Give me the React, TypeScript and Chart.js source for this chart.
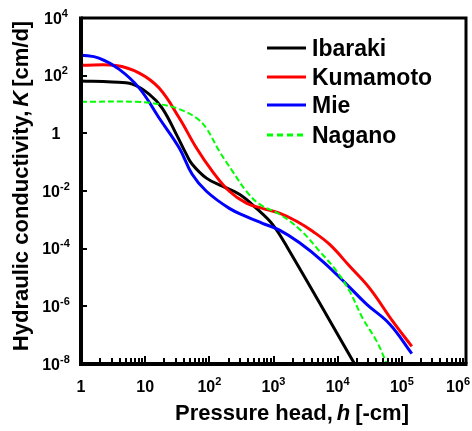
import React, { useEffect, useRef } from "react";
import { Chart, registerables } from "chart.js";

Chart.register(...registerables);

const FONT = '"Liberation Sans", Arial, Helvetica, sans-serif';

// Series names / colours
const seriesNames = ["Ibaraki", "Kumamoto", "Mie", "Nagano"];
const seriesColors = ["#000000", "#ff0000", "#0000ff", "#00ff00"];

// Pressure head h [-cm] and hydraulic conductivity K [cm/d]
const ibarakiH = [1, 3.05, 6.3, 11.5, 18.4, 30.5, 43.7, 54, 90, 160, 294, 542, 965, 1780, 18400];
const ibarakiK = [65, 60, 51, 23, 7.5, 0.94, 0.19, 0.085, 0.028, 0.0147, 0.0077, 0.0025, 7.0e-4, 8.1e-5, 1e-8];

const kumamotoH = [1, 3.5, 8.1, 16.5, 34, 63, 111, 205, 378, 673, 1240, 2290, 4070, 7500, 15400, 31600, 72300, 143000];
const kumamotoK = [228, 225, 123, 37, 3.4, 0.31, 0.049, 0.0098, 0.0038, 0.0025, 0.0017, 8.9e-4, 4.0e-4, 1.4e-4, 2.45e-5, 4.2e-6, 3.0e-7, 4.1e-8];

const mieH = [1, 1.9, 3.9, 8.1, 16.5, 34, 54, 90, 205, 378, 673, 1240, 2550, 5830, 13800, 28400, 64900, 143000];
const mieK = [519, 408, 169, 37, 3.4, 0.31, 0.038, 0.0098, 0.0025, 0.0013, 7.6e-4, 4.4e-4, 1.6e-4, 3.65e-5, 5.8e-6, 1.17e-6, 2.4e-7, 2.3e-8];

const naganoH = [1, 7.2, 16.5, 34, 63, 90, 143, 229, 378, 604, 1240, 2550, 5230, 9650, 15400, 24600, 40700, 58300];
const naganoK = [12.4, 12.4, 10.3, 6.9, 3.4, 1.5, 0.24, 0.049, 0.0098, 0.0035, 0.00156, 4.7e-4, 8.1e-5, 1.64e-5, 3.3e-6, 3.8e-7, 6.1e-8, 1e-8];

// Axis ticks
const xTickValues = [1, 10, 100, 1000, 10000, 100000, 1000000];
const xTickLabels: [string, string][] = [["1", ""], ["10", ""], ["10", "2"], ["10", "3"], ["10", "4"], ["10", "5"], ["10", "6"]];
const yTickValues = [1e4, 1e2, 1, 1e-2, 1e-4, 1e-6, 1e-8];
const yTickLabels: [string, string][] = [["10", "4"], ["10", "2"], ["1", ""], ["10", "-2"], ["10", "-4"], ["10", "-6"], ["10", "-8"]];

const xTitle = ["Pressure head,", "h", "[-cm]"];
const yTitle = ["Hydraulic conductivity,", "K", "[cm/d]"];

function pts(h: number[], k: number[]) {
  return h.map((v, i) => ({ x: v, y: k[i] }));
}

function labelWidth(ctx: CanvasRenderingContext2D, base: string, exp: string) {
  ctx.font = `bold 16px ${FONT}`;
  let w = ctx.measureText(base).width;
  if (exp) {
    ctx.font = `bold 11px ${FONT}`;
    w += ctx.measureText(exp).width;
  }
  return w;
}

function drawPow(ctx: CanvasRenderingContext2D, base: string, exp: string, cx: number, cy: number) {
  const w = labelWidth(ctx, base, exp);
  const x0 = cx - w / 2;
  const baseline = cy + 16 * 0.716 / 2;
  ctx.textAlign = "left";
  ctx.textBaseline = "alphabetic";
  ctx.font = `bold 16px ${FONT}`;
  ctx.fillText(base, x0, baseline);
  const bw = ctx.measureText(base).width;
  if (exp) {
    ctx.font = `bold 11px ${FONT}`;
    ctx.fillText(exp, x0 + bw, baseline - 7);
  }
}

function drawRich(ctx: CanvasRenderingContext2D, parts: string[], size: number, gaps: number[]) {
  const fonts = [`bold ${size}px ${FONT}`, `italic bold ${size}px ${FONT}`, `bold ${size}px ${FONT}`];
  const widths = parts.map((p, i) => {
    ctx.font = fonts[i];
    return ctx.measureText(p).width;
  });
  const total = widths.reduce((a, b) => a + b, 0) + gaps[0] + gaps[1];
  let x = -total / 2;
  const baseline = size * 0.716 / 2;
  ctx.textAlign = "left";
  ctx.textBaseline = "alphabetic";
  parts.forEach((p, i) => {
    ctx.font = fonts[i];
    ctx.fillText(p, x, baseline);
    x += widths[i] + (i < 2 ? gaps[i] : 0);
  });
}

const decorPlugin = {
  id: "decor",
  afterDraw(chart: any) {
    const ctx: CanvasRenderingContext2D = chart.ctx;
    const { left, right, top, bottom } = chart.chartArea;
    const xs = chart.scales.x;
    const ys = chart.scales.y;
    ctx.save();
    ctx.setLineDash([]);
    ctx.strokeStyle = "#000";
    ctx.fillStyle = "#000";
    ctx.lineCap = "butt";

    // frame
    ctx.lineWidth = 3;
    ctx.beginPath();
    ctx.moveTo(left, top);
    ctx.lineTo(right, top);
    ctx.lineTo(right, bottom);
    ctx.stroke();
    ctx.lineWidth = 4;
    ctx.beginPath();
    ctx.moveTo(left, top - 1.5);
    ctx.lineTo(left, bottom);
    ctx.lineTo(right + 1.5, bottom);
    ctx.stroke();

    // x ticks (inside, upward)
    ctx.lineWidth = 2;
    for (let d = 0; d < 6; d++) {
      for (let m = 1; m <= 9; m++) {
        if (m === 1 && d === 0) continue;
        const v = m * Math.pow(10, d);
        const px = Math.round(xs.getPixelForValue(v));
        const len = m === 1 ? 6 : 4;
        ctx.beginPath();
        ctx.moveTo(px, bottom);
        ctx.lineTo(px, bottom - 2 - len);
        ctx.stroke();
      }
    }
    // y ticks (inside)
    yTickValues.forEach((v) => {
      if (v === 1e-8 || v === 1e4) return;
      const py = Math.round(ys.getPixelForValue(v));
      ctx.beginPath();
      ctx.moveTo(left, py);
      ctx.lineTo(left + 6, py);
      ctx.stroke();
    });

    // tick labels
    xTickValues.forEach((v, i) => {
      const [b, e] = xTickLabels[i];
      const w = labelWidth(ctx, b, e);
      let cx = xs.getPixelForValue(v);
      cx = Math.min(cx, chart.width - w / 2 - 2);
      drawPow(ctx, b, e, cx, 386);
    });
    yTickValues.forEach((v, i) => {
      const [b, e] = yTickLabels[i];
      drawPow(ctx, b, e, 56, ys.getPixelForValue(v));
    });

    // axis titles
    ctx.save();
    ctx.translate(292, 412);
    drawRich(ctx, xTitle, 22, [4, 5]);
    ctx.restore();
    ctx.save();
    ctx.translate(20, 186);
    ctx.rotate(-Math.PI / 2);
    drawRich(ctx, yTitle, 22, [4, 4]);
    ctx.restore();

    // legend
    const rows = [48, 77, 105, 135];
    seriesNames.forEach((name, i) => {
      const y = rows[i];
      ctx.strokeStyle = seriesColors[i];
      ctx.lineWidth = 3;
      ctx.setLineDash(i === 3 ? [6, 4] : []);
      ctx.beginPath();
      ctx.moveTo(267, y);
      ctx.lineTo(306, y);
      ctx.stroke();
      ctx.setLineDash([]);
      ctx.fillStyle = "#000";
      ctx.font = `bold 23px ${FONT}`;
      ctx.textAlign = "left";
      ctx.textBaseline = "alphabetic";
      ctx.fillText(name, 312, y + 23 * 0.716 / 2);
    });
    ctx.restore();
  },
};

export default function App() {
  const ref = useRef<HTMLCanvasElement | null>(null);
  useEffect(() => {
    if (!ref.current) return;
    const common = { pointRadius: 0, fill: false, tension: 0.4 };
    const chart = new Chart(ref.current, {
      type: "line",
      data: {
        datasets: [
          { ...common, label: seriesNames[3], data: pts(naganoH, naganoK), borderColor: seriesColors[3], borderWidth: 2, borderDash: [6, 3] },
          { ...common, label: seriesNames[2], data: pts(mieH, mieK), borderColor: seriesColors[2], borderWidth: 3 },
          { ...common, label: seriesNames[1], data: pts(kumamotoH, kumamotoK), borderColor: seriesColors[1], borderWidth: 3 },
          { ...common, label: seriesNames[0], data: pts(ibarakiH, ibarakiK), borderColor: seriesColors[0], borderWidth: 3 },
        ],
      },
      options: {
        responsive: false,
        animation: false,
        devicePixelRatio: 1,
        layout: { padding: { left: 81, top: 18, right: 6, bottom: 67 } },
        plugins: { legend: { display: false }, tooltip: { enabled: false } },
        scales: {
          x: { type: "logarithmic", min: 1, max: 1e6, display: false },
          y: { type: "logarithmic", min: 1e-8, max: 1e4, display: false },
        },
      },
      plugins: [decorPlugin],
    });
    return () => chart.destroy();
  }, []);
  return (
    <div style={{ position: "fixed", left: 0, top: 0, width: 472, height: 431, background: "#fff" }}>
      <canvas ref={ref} width={472} height={431} style={{ display: "block" }} />
    </div>
  );
}
